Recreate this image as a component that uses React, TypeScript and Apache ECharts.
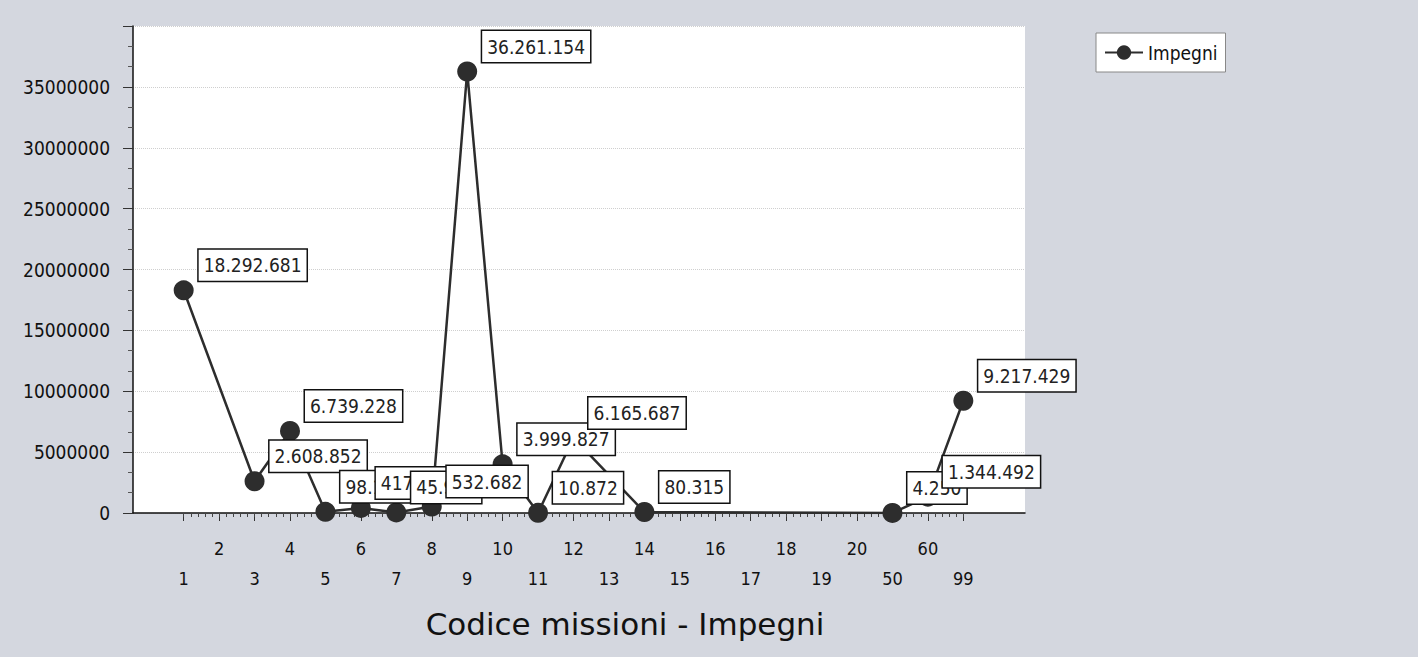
import React, { useEffect, useRef } from "react";
import * as echarts from "echarts";

const categories = ["1","2","3","4","5","6","7","8","9","10","11","12","13","14","15","16","17","18","19","20","50","60","99"];
const impegni: (number | null)[] = [
  18292681, null, 2608852, 6739228, 98124, 417350, 45912, 532682, 36261154,
  3999827, 10872, 6165687, null, 80315, null, null, null, null, null, null,
  4250, 1344492, 9217429,
];
const yTicks = { min: 0, max: 40000000, interval: 5000000 };
const seriesName = "Impegni";
const chartTitle = "Codice missioni - Impegni";

const fmt = (v: number) => String(Math.round(v)).replace(/\B(?=(\d{3})+(?!\d))/g, ".");

const FONT = "'DejaVu Sans Condensed', 'DejaVu Sans', sans-serif";

export default function App() {
  const ref = useRef<HTMLDivElement>(null);
  useEffect(() => {
    if (!ref.current) return;
    const chart = echarts.init(ref.current, undefined, { renderer: "svg" });
    const catIdx = categories.map((_, i) => i);
    const minorIdx: number[] = [];
    for (let k = 0; k <= (categories.length - 1) * 5; k++) minorIdx.push(k / 5);
    const data = impegni
      .map((v, i) => (v == null ? null : [i, v]))
      .filter((d) => d !== null) as number[][];
    const xMin = -1.43;
    const xMax = 23.74;
    chart.setOption({
      animation: false,
      backgroundColor: "#d4d7df",
      textStyle: { fontFamily: FONT },
      title: {
        text: chartTitle,
        left: 620,
        top: 603,
        textAlign: "center",
        textStyle: { fontSize: 31, fontWeight: "normal", color: "#111", fontFamily: "'DejaVu Sans', sans-serif" },
      },
      legend: {
        data: [seriesName],
        left: 1096,
        top: 33,
        backgroundColor: "#fff",
        borderColor: "#888",
        borderWidth: 1,
        padding: [10, 8],
        itemWidth: 38,
        itemHeight: 18,
        itemGap: 6,
        textStyle: { fontSize: 19, color: "#111", fontFamily: FONT },
      },
      grid: {
        left: 133,
        right: 393,
        top: 26,
        bottom: 144,
        show: true,
        backgroundColor: "#ffffff",
        borderWidth: 0,
      },
      xAxis: [
        {
          type: "value",
          min: xMin,
          max: xMax,
          axisLine: { show: true, onZero: false, lineStyle: { color: "#111", width: 1.5 } },
          axisTick: { show: true, customValues: catIdx, length: 8, lineStyle: { color: "#333" } },
          axisLabel: {
            customValues: catIdx,
            formatter: (v: number) => {
              const i = Math.round(v);
              return i % 2 === 0 ? "\n" + categories[i] : categories[i];
            },
            lineHeight: 30,
            margin: 20,
            fontSize: 18,
            color: "#111",
            fontFamily: FONT,
          },
          splitLine: { show: false },
        },
        {
          type: "value",
          min: xMin,
          max: xMax,
          position: "bottom",
          axisLine: { show: false, onZero: false },
          axisTick: { show: true, customValues: minorIdx, length: 4, lineStyle: { color: "#444" } },
          axisLabel: { show: false },
          splitLine: { show: false },
        },
      ],
      yAxis: {
        type: "value",
        min: yTicks.min,
        max: yTicks.max,
        interval: yTicks.interval,
        axisLine: { show: true, onZero: false, lineStyle: { color: "#111", width: 1.5 } },
        axisTick: { show: true, length: 10, lineStyle: { color: "#333" } },
        minorTick: { show: true, splitNumber: 3, length: 5, lineStyle: { color: "#555" } },
        axisLabel: {
          margin: 23,
          fontSize: 19,
          color: "#111",
          showMaxLabel: false,
          fontFamily: FONT,
          formatter: (v: number) => String(v),
        },
        splitLine: { show: true, lineStyle: { color: "#cfcfcf", type: "dotted", width: 1 } },
      },
      series: [
        {
          name: seriesName,
          type: "line",
          xAxisIndex: 0,
          data,
          symbol: "circle",
          symbolSize: 20,
          lineStyle: { color: "#2d2d2d", width: 2.5 },
          itemStyle: { color: "#2d2d2d" },
          label: {
            show: true,
            position: "right",
            distance: 5,
            offset: [0, -25],
            formatter: (p: any) => fmt(p.value[1]),
            backgroundColor: "#fff",
            borderColor: "#111",
            borderWidth: 1.5,
            padding: [4, 5, 3, 5],
            fontSize: 19,
            lineHeight: 24,
            color: "#222",
            fontFamily: FONT,
          },
        },
      ],
    });
    return () => chart.dispose();
  }, []);
  return <div ref={ref} style={{ position: "fixed", left: 0, top: 0, width: 1418, height: 657 }} />;
}
